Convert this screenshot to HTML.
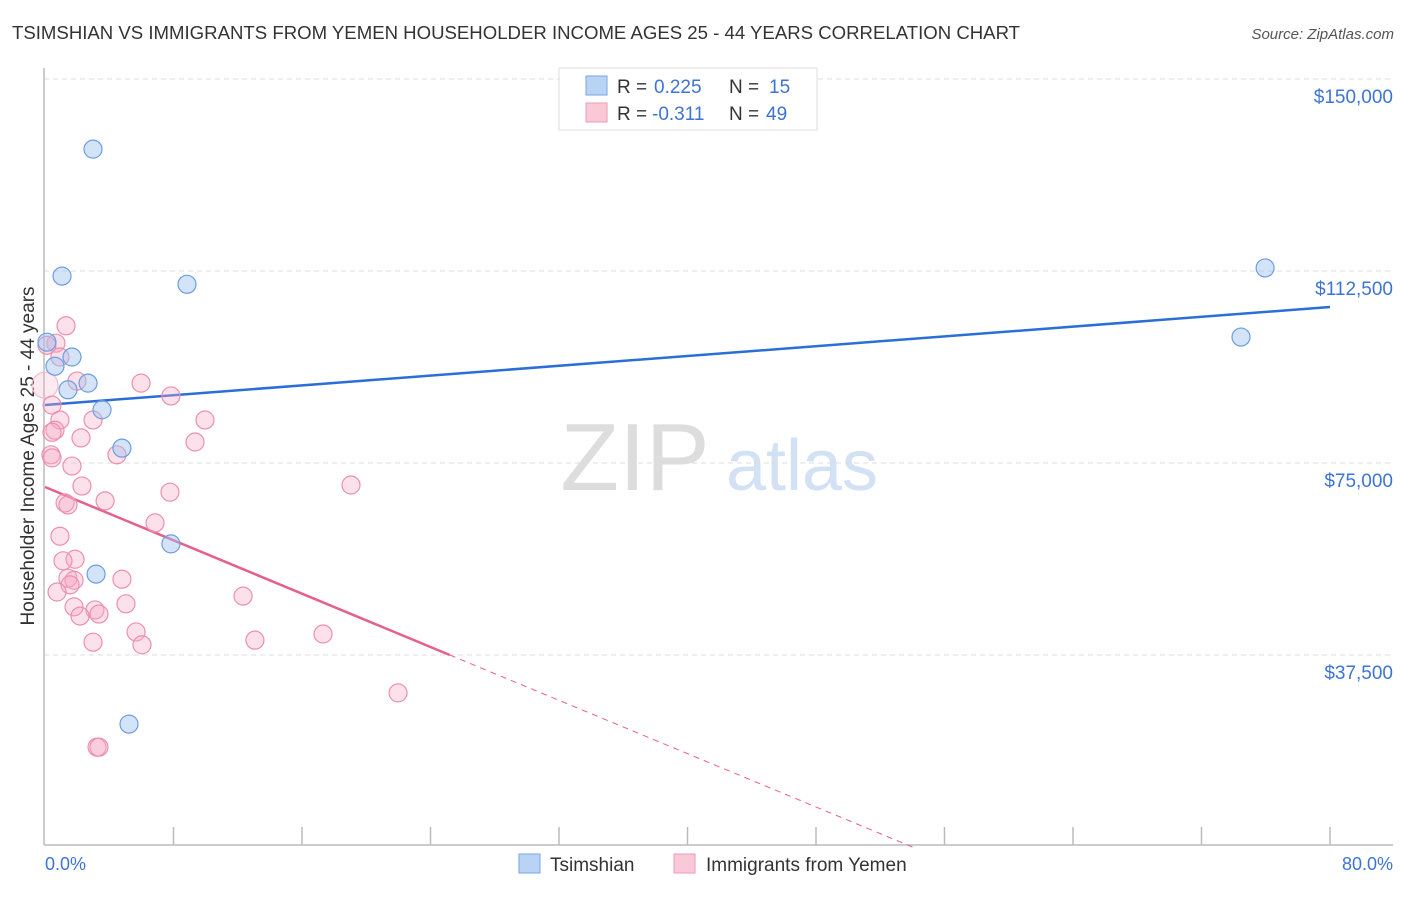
<!DOCTYPE html>
<html><head><meta charset="utf-8"><style>
body{margin:0;background:#fff;font-family:"Liberation Sans",sans-serif;}
svg text{font-family:"Liberation Sans",sans-serif;}
</style></head><body>
<svg id="chart" width="1406" height="892" xmlns="http://www.w3.org/2000/svg">
<text x="12" y="39" font-size="18.6" fill="#333">TSIMSHIAN VS IMMIGRANTS FROM YEMEN HOUSEHOLDER INCOME AGES 25 - 44 YEARS CORRELATION CHART</text>
<text x="1394" y="39" font-size="15" fill="#555" text-anchor="end" font-style="italic">Source: ZipAtlas.com</text>
<g>
<text x="635" y="490" font-size="96" fill="#ddd" text-anchor="middle" font-family="Liberation Serif, serif">ZIP</text>
<text x="802" y="490" font-size="72" fill="#d3e1f5" text-anchor="middle">atlas</text>
</g>
<g id="grid"></g>
<line x1="44" y1="68" x2="44" y2="845" stroke="#bbb" stroke-width="1.5"/>
<line x1="44" y1="845" x2="1393" y2="845" stroke="#bbb" stroke-width="1.5"/>
<g id="ticks"></g>
<text transform="translate(34,456) rotate(-90)" font-size="19" fill="#333" text-anchor="middle">Householder Income Ages 25 - 44 years</text>
<text x="45" y="870" font-size="18" fill="#3d74d3">0.0%</text>
<text x="1393" y="870" font-size="18" fill="#3d74d3" text-anchor="end">80.0%</text>
<g id="lines"></g>
<g id="points"></g>
<g>
<rect x="559" y="68" width="258" height="62" fill="#fff" stroke="#ddd"/>
<rect x="586" y="76" width="21" height="19" fill="#b9d3f5" stroke="#7aa6e6"/>
<rect x="586" y="103" width="21" height="19" fill="#fac9d8" stroke="#ee9ab5"/>
<text x="617" y="93" font-size="19" fill="#333">R = </text><text x="654" y="93" font-size="19" fill="#3d74d3">0.225</text>
<text x="729" y="93" font-size="19" fill="#333">N = </text><text x="769" y="93" font-size="19" fill="#3d74d3">15</text>
<text x="617" y="120" font-size="19" fill="#333">R = </text><text x="652" y="120" font-size="19" fill="#3d74d3">-0.311</text>
<text x="729" y="120" font-size="19" fill="#333">N = </text><text x="766" y="120" font-size="19" fill="#3d74d3">49</text>
</g>
<g>
<rect x="519" y="854" width="21" height="19" fill="#b9d3f5" stroke="#7aa6e6"/>
<text x="550" y="871" font-size="19" fill="#333">Tsimshian</text>
<rect x="674" y="854" width="21" height="19" fill="#fac9d8" stroke="#ee9ab5"/>
<text x="706" y="871" font-size="19" fill="#333">Immigrants from Yemen</text>
</g>
</svg>
<script>
const yTicks=[37500,75000,112500,150000];
const yTickLabels=["$37,500","$75,000","$112,500","$150,000"];
const blueX=[2.99,1.06,8.84,0.12,1.68,0.62,2.68,1.43,3.55,4.79,7.84,3.18,5.23,75.96,74.46];
const blueY=[136300,111500,109900,98600,95700,93900,90600,89300,85400,77900,59200,53300,24000,113100,99600];
const pinkX=[1.31,0.68,0.12,0.93,1.99,5.98,7.84,0,0.44,2.99,9.96,0.93,0.62,0.44,2.24,9.34,4.48,0.37,0.44,1.68,2.30,7.78,19.05,3.74,1.25,1.43,6.85,0.93,1.87,1.12,1.43,4.79,1.81,1.56,0.75,12.33,5.04,1.81,3.11,3.36,2.18,5.67,17.31,6.04,2.99,13.07,21.98,3.24,3.36];
const pinkY=[101800,98400,98000,95700,91000,90600,88100,90200,86300,83400,83400,83400,81400,81000,79900,79100,76600,76600,76000,74400,70500,69300,70700,67600,67200,66800,63300,60700,56200,55900,52500,52300,52100,51200,49800,49000,47500,46900,46300,45500,45100,42000,41600,39500,40000,40400,30100,19500,19500];
const blueLine=[86328,105469];
const pinkLine=[70313,-1302];
const pinkSolidEnd=25.2;
const NS="http://www.w3.org/2000/svg";
const sx=v=>45+v/80*1285;
const sy=v=>847-v/37500*192;
function mk(t,a,p){const e=document.createElementNS(NS,t);for(const k in a)e.setAttribute(k,a[k]);p.appendChild(e);return e;}
const grid=document.getElementById('grid');
yTicks.forEach((t,i)=>{
 const l=mk('line',{x1:44,x2:1393,y1:sy(t),y2:sy(t),stroke:'#ddd','stroke-dasharray':'5,4'},grid);
 
 
 const tx=mk('text',{x:1393,y:sy(t)+24,'font-size':19,fill:'#3d74d3','text-anchor':'end'},grid);
 tx.textContent=yTickLabels[i];
 
 
});
const ticks=document.getElementById('ticks');
for(let i=1;i<=10;i++){
 const l=mk('line',{x1:sx(i*8),x2:sx(i*8),y1:827,y2:845,stroke:'#bbb','stroke-width':1.5},ticks);
 
 
}
const lines=document.getElementById('lines');
let bl=mk('line',{x1:sx(0),y1:sy(blueLine[0]),x2:sx(80),y2:sy(blueLine[1]),stroke:'#2b6fd6','stroke-width':2.5},lines);


const pz=-pinkLine[0]/pinkLine[1];
let pl=mk('line',{x1:sx(0),y1:sy(pinkLine[0]),x2:sx(pinkSolidEnd),y2:sy(pinkLine[0]+pinkLine[1]*pinkSolidEnd),stroke:'#e5608d','stroke-width':2.5},lines);


let pd=mk('line',{x1:sx(pinkSolidEnd),y1:sy(pinkLine[0]+pinkLine[1]*pinkSolidEnd),x2:sx(pz),y2:sy(0),stroke:'#e5608d','stroke-width':1,'stroke-dasharray':'6,5'},lines);


const pts=document.getElementById('points');
pinkX.forEach((x,i)=>{
 const big=x===0;
 const c=mk('circle',{cx:sx(x),cy:sy(pinkY[i]),r:(big?13:9),fill:(big?'rgba(246,170,196,0.25)':'rgba(246,170,196,0.35)'),stroke:(big?'#f3bcd0':'#ec8fb0'),'stroke-width':1.2},pts);
 
 
});
blueX.forEach((x,i)=>{
 const c=mk('circle',{cx:sx(x),cy:sy(blueY[i]),r:9,fill:'rgba(160,196,240,0.45)',stroke:'#6b9de2','stroke-width':1.2},pts);
 
 
});
</script>
</body></html>
